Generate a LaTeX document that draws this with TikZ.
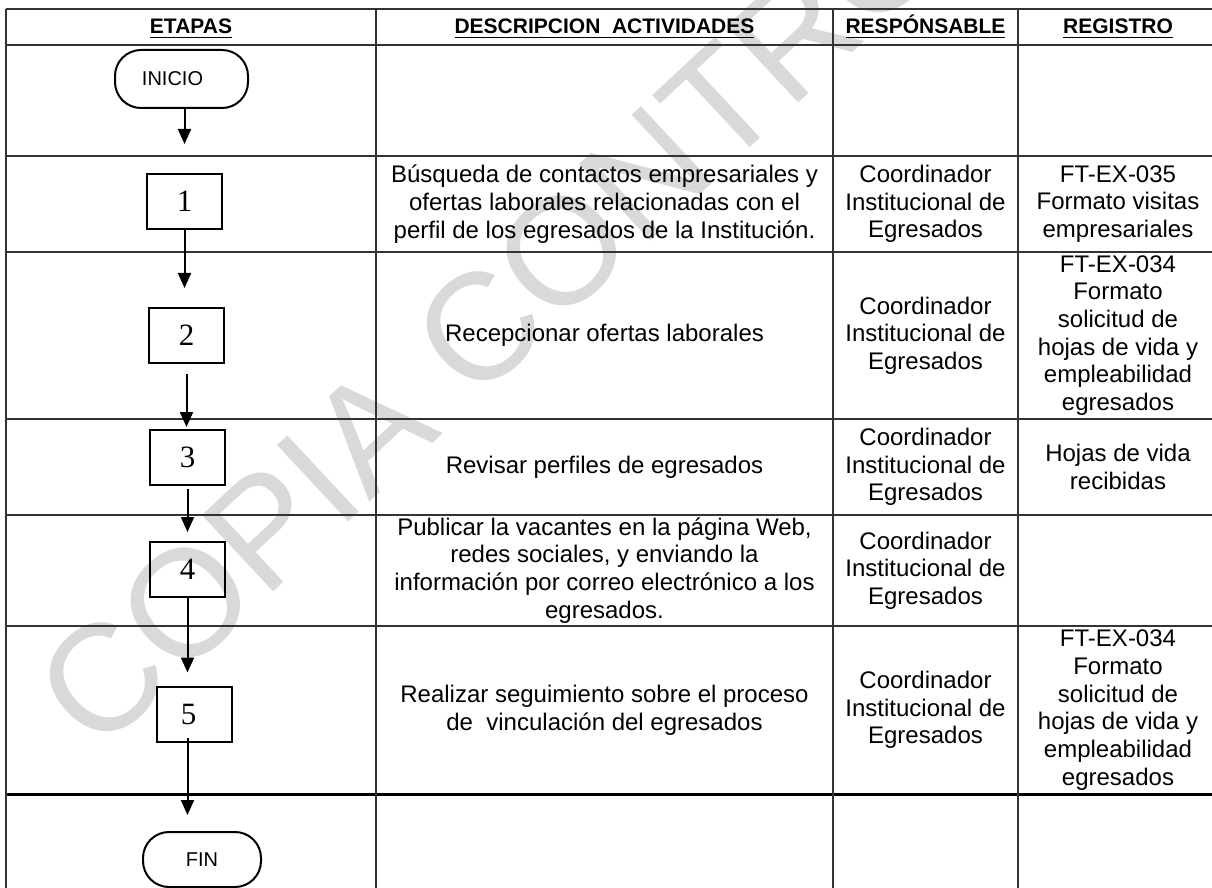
\documentclass[tikz,border=0pt]{standalone}
\usepackage{fontspec}
\setmainfont{Liberation Sans}
\newfontfamily\numfont{Liberation Serif}
\usetikzlibrary{arrows.meta}

\begin{document}
\begin{tikzpicture}[x=0.5pt,y=-0.5pt,>={Triangle[width=6.5pt,length=7.5pt]},
    etapa/.style={draw,line width=1pt,minimum width=37.5pt,minimum height=27.5pt,inner sep=0pt,font=\numfont\fontsize{15.5}{15.5}\selectfont},
    terminal/.style={draw,line width=1pt,rounded corners=13pt,minimum height=29pt,inner sep=0pt,font=\fontsize{10}{12}\selectfont},
    flecha/.style={->,line width=1pt},
    celda/.style={align=center,inner sep=0pt,font=\fontsize{12}{13.85}\selectfont},
    titulo/.style={anchor=base,inner sep=0pt,font=\fontsize{10.5}{12}\selectfont\bfseries},
    linea/.style={line width=0.75pt,black!80}]
    \useasboundingbox (0,0) rectangle (1212,888);
    \clip (0,0) rectangle (1212,888);

    \node[anchor=west,rotate=43,text=gray!30,inner sep=0pt,font=\fontsize{76}{76}\selectfont] (marca) at (62,718) {COPIA CONTROLADA};

    \draw[linea] (6,9) -- (1218,9) (6,45) -- (1218,45) (6,156) -- (1218,156) (6,252) -- (1218,252)
        (6,419) -- (1218,419) (6,515) -- (1218,515) (6,626) -- (1218,626);
    \draw[line width=1.5pt] (6,794) -- (1218,794);
    \draw[linea] (6,9) -- (6,900) (376,9) -- (376,900) (833,9) -- (833,900) (1018,9) -- (1018,900);

    \node[titulo] (h1) at (191,34) {\underline{ETAPAS}};
    \node[titulo] (h2) at (604.5,34) {\underline{DESCRIPCION\ \ ACTIVIDADES}};
    \node[titulo] (h3) at (925.5,34) {\underline{RESPÓNSABLE}};
    \node[titulo] (h4) at (1118,34) {\underline{REGISTRO}};

    \node[terminal,minimum width=66.5pt] (inicio) at (181.5,79) {INICIO\hspace*{9pt}};
    \node[etapa] (1) at (184.5,201.5) {1};
    \node[etapa] (2) at (186.5,335.5) {2};
    \node[etapa] (3) at (187.5,457.5) {3};
    \node[etapa] (4) at (187.5,569.5) {4};
    \node[etapa] (5) at (194.5,714) {5\hspace*{6pt}};
    \node[terminal,minimum width=59pt,minimum height=27.5pt] (fin) at (202,859.5) {FIN};

    \draw[flecha,shorten >=14.5pt] (1.north |- inicio.south) -- (1.north);
    \draw[flecha,shorten >=9.5pt] (1.south) -- (1.south |- 2.north);
    \draw[flecha,shorten <=5pt,shorten >=1pt] (2.south) -- (2.south |- 3.north);
    \draw[flecha,shorten <=1.5pt,shorten >=4.5pt] (3.south) -- (4.north);
    \draw[flecha,shorten >=6.5pt] (4.south) -- (4.south |- 5.north);
    \draw[flecha,shorten <=-2.5pt,shorten >=8pt] (4.south |- 5.south) -- (4.south |- fin.north);

    \node[celda] (d1) at (604.5,204) {Búsqueda de contactos empresariales y\\ofertas laborales relacionadas con el\\perfil de los egresados de la Institución.};
    \node[celda] (r1) at (925.5,204) {Coordinador\\Institucional de\\Egresados};
    \node[celda] (g1) at (1118,204) {FT-EX-035\\Formato visitas\\empresariales};

    \node[celda] (d2) at (604.5,335.5) {Recepcionar ofertas laborales};
    \node[celda] (r2) at (925.5,335.5) {Coordinador\\Institucional de\\Egresados};
    \node[celda] (g2) at (1118,335.5) {FT-EX-034\\Formato\\solicitud de\\hojas de vida y\\empleabilidad\\egresados};

    \node[celda] (d3) at (604.5,467) {Revisar perfiles de egresados};
    \node[celda] (r3) at (925.5,467) {Coordinador\\Institucional de\\Egresados};
    \node[celda] (g3) at (1118,467) {Hojas de vida\\recibidas};

    \node[celda] (d4) at (604.5,570.5) {Publicar la vacantes en la página Web,\\redes sociales, y enviando la\\información por correo electrónico a los\\egresados.};
    \node[celda] (r4) at (925.5,570.5) {Coordinador\\Institucional de\\Egresados};

    \node[celda] (d5) at (604.5,710) {Realizar seguimiento sobre el proceso\\de\ \ vinculación del egresados};
    \node[celda] (r5) at (925.5,710) {Coordinador\\Institucional de\\Egresados};
    \node[celda] (g5) at (1118,710) {FT-EX-034\\Formato\\solicitud de\\hojas de vida y\\empleabilidad\\egresados};
\end{tikzpicture}
\end{document}
